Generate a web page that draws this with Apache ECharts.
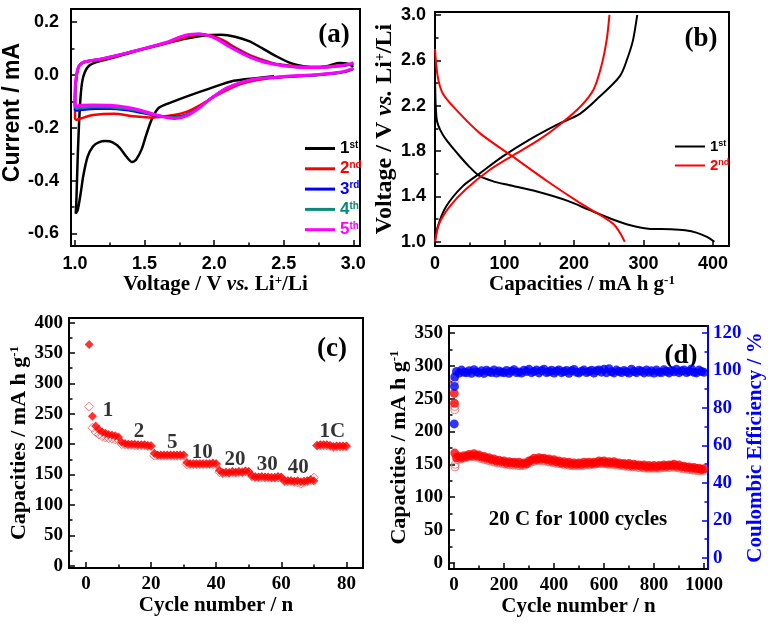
<!DOCTYPE html>
<html><head><meta charset="utf-8">
<script src="https://cdn.jsdelivr.net/npm/echarts@6/dist/echarts.min.js"></script>
<style>html,body{margin:0;padding:0;background:#fff}#c{width:768px;height:625px}</style>
</head><body><div id="c"></div>
<script>
// ---------- Panel (a): cyclic voltammetry [V, mA] in sweep order ----------
const cvNames = ['1st', '2nd', '3rd', '4th', '5th'];
const cv1 = [[2.43,-0.005],[2.3,-0.012],[2.14,-0.022],[1.99,-0.047],[1.8,-0.082],[1.71,-0.1],[1.6,-0.125],[1.55,-0.17],[1.51,-0.23],[1.48,-0.28],[1.44,-0.32],[1.41,-0.33],[1.37,-0.31],[1.32,-0.275],[1.27,-0.255],[1.22,-0.25],[1.17,-0.255],[1.13,-0.27],[1.09,-0.31],[1.06,-0.38],[1.04,-0.45],[1.02,-0.51],[1.005,-0.525],[1.01,-0.47],[1.02,-0.3],[1.035,-0.12],[1.05,-0.03],[1.07,0.01],[1.1,0.035],[1.15,0.048],[1.25,0.062],[1.37,0.08],[1.5,0.1],[1.65,0.12],[1.8,0.138],[1.93,0.15],[2.05,0.152],[2.15,0.145],[2.25,0.128],[2.35,0.1],[2.45,0.07],[2.55,0.045],[2.65,0.032],[2.74,0.028],[2.83,0.036],[2.9,0.045],[2.96,0.043],[3.0,0.03]];
const cv2 = [[3.0,0.025],[2.95,0.013],[2.81,0.004],[2.62,-0.004],[2.38,-0.013],[2.19,-0.034],[2.02,-0.076],[1.9,-0.114],[1.8,-0.14],[1.71,-0.152],[1.56,-0.161],[1.42,-0.156],[1.28,-0.147],[1.13,-0.152],[1.04,-0.165],[1.01,-0.17],[1.0,-0.165],[1.0,-0.095],[1.01,-0.006],[1.03,0.035],[1.08,0.05],[1.18,0.057],[1.3,0.072],[1.42,0.089],[1.55,0.105],[1.66,0.12],[1.8,0.143],[1.9,0.152],[1.99,0.148],[2.07,0.13],[2.14,0.108],[2.21,0.088],[2.28,0.07],[2.36,0.055],[2.43,0.044],[2.52,0.037],[2.62,0.032],[2.75,0.031],[2.86,0.034],[2.95,0.038],[3.0,0.044]];
const cv3 = [[3.0,0.022],[2.9,0.008],[2.75,0.0],[2.5,-0.007],[2.3,-0.016],[2.2,-0.028],[2.09,-0.05],[2.0,-0.08],[1.95,-0.1],[1.88,-0.128],[1.8,-0.15],[1.72,-0.158],[1.63,-0.156],[1.54,-0.15],[1.45,-0.14],[1.37,-0.133],[1.25,-0.128],[1.15,-0.128],[1.05,-0.132],[1.01,-0.135],[1.0,-0.13],[1.0,-0.08],[1.01,-0.01],[1.03,0.035],[1.07,0.05],[1.18,0.06],[1.3,0.074],[1.42,0.09],[1.55,0.107],[1.66,0.123],[1.75,0.142],[1.83,0.152],[1.9,0.155],[1.97,0.148],[2.04,0.132],[2.12,0.108],[2.2,0.085],[2.28,0.066],[2.37,0.05],[2.45,0.04],[2.56,0.032],[2.66,0.028],[2.78,0.029],[2.88,0.033],[2.96,0.038],[3.0,0.044]];
const cv4 = [[3.0,0.024],[2.9,0.009],[2.75,0.001],[2.5,-0.006],[2.3,-0.015],[2.2,-0.027],[2.09,-0.05],[2.0,-0.08],[1.95,-0.1],[1.88,-0.129],[1.8,-0.152],[1.72,-0.161],[1.64,-0.158],[1.55,-0.149],[1.46,-0.137],[1.37,-0.128],[1.25,-0.122],[1.14,-0.121],[1.05,-0.124],[1.01,-0.127],[1.0,-0.12],[1.0,-0.07],[1.01,-0.005],[1.03,0.035],[1.07,0.05],[1.18,0.06],[1.3,0.074],[1.42,0.09],[1.55,0.107],[1.66,0.123],[1.75,0.142],[1.82,0.152],[1.89,0.155],[1.96,0.149],[2.03,0.134],[2.11,0.109],[2.19,0.086],[2.27,0.066],[2.36,0.05],[2.45,0.04],[2.55,0.032],[2.66,0.028],[2.78,0.029],[2.88,0.033],[2.96,0.039],[3.0,0.045]];
const cv5 = [[3.0,0.025],[2.9,0.01],[2.75,0.002],[2.5,-0.006],[2.3,-0.015],[2.2,-0.027],[2.09,-0.05],[2.0,-0.08],[1.95,-0.1],[1.88,-0.13],[1.8,-0.155],[1.72,-0.165],[1.65,-0.16],[1.56,-0.148],[1.47,-0.133],[1.37,-0.122],[1.25,-0.115],[1.13,-0.114],[1.04,-0.115],[1.005,-0.118],[1.0,-0.11],[1.0,-0.06],[1.01,0.0],[1.03,0.035],[1.07,0.05],[1.18,0.06],[1.3,0.074],[1.42,0.09],[1.55,0.108],[1.66,0.124],[1.75,0.143],[1.82,0.153],[1.88,0.155],[1.95,0.15],[2.02,0.136],[2.1,0.11],[2.18,0.087],[2.26,0.067],[2.35,0.05],[2.44,0.04],[2.55,0.032],[2.66,0.028],[2.78,0.029],[2.88,0.034],[2.96,0.04],[3.0,0.047]];
const aXTicks = [1.0, 1.5, 2.0, 2.5, 3.0];
const aXMinor = [1.25, 1.75, 2.25, 2.75];
const aYTicks = [-0.6, -0.4, -0.2, 0.0, 0.2];
const aYMinor = [-0.5, -0.3, -0.1, 0.1];

// ---------- Panel (b): charge/discharge [capacity, V] ----------
const gcdNames = ['1st', '2nd'];
const dis1 = [[0,2.45],[1,2.2],[3,2.06],[8,1.98],[16,1.9],[32,1.78],[48,1.67],[64,1.58],[85,1.53],[106,1.5],[148,1.44],[191,1.36],[222,1.28],[254,1.2],[281,1.145],[307,1.115],[339,1.11],[360,1.1],[376,1.08],[392,1.04],[402,1.0]];
const chg1 = [[0,1.0],[3.8,1.13],[16,1.31],[40,1.49],[64,1.6],[97,1.75],[136,1.9],[175,2.03],[209,2.13],[237,2.28],[266,2.46],[277,2.62],[285,2.78],[291,3.0]];
const dis2 = [[0,2.7],[3.8,2.46],[11,2.31],[31,2.16],[64,1.96],[112,1.75],[160,1.54],[209,1.34],[256,1.16],[273,1.0]];
const chg2 = [[0,1.0],[6,1.16],[21,1.31],[44,1.46],[78,1.63],[112,1.76],[150,1.9],[179,2.03],[209,2.19],[228,2.34],[239,2.54],[247,2.78],[251,3.0]];
const bXTicks = [0, 100, 200, 300, 400];
const bXMinor = [50, 150, 250, 350];
const bYTicks = [1.0, 1.4, 1.8, 2.2, 2.6, 3.0];
const bYMinor = [1.2, 1.6, 2.0, 2.4, 2.8];

// ---------- Panel (c): rate capability, cycles 1..80 ----------
const rateFilled = [364,246,230,224,220,218,216,215,214,212, 203,201,200,200,200,199,199,199,198,197, 185,182,182,182,182,182,182,182,182,182, 170,168,168,168,168,168,168,168,169,168, 157,153,154,153,155,154,155,154,156,155, 148,146,146,147,146,146,145,145,147,146, 140,140,140,139,140,138,139,140,142,140, 198,199,199,199,198,196,197,197,197,197];
const rateOpen = [262,227,220,216,213,211,210,209,208,207, 200,199,199,199,198,198,198,198,197,197, 181,181,181,181,181,181,181,181,181,181, 167,167,167,167,167,167,167,167,167,167, 154,152,153,153,154,153,154,154,155,154, 147,146,145,145,145,145,145,145,145,145, 139,139,139,138,137,135,138,139,140,145, 198,198,198,198,197,195,196,196,196,196];
const rateLabels = ['1', '2', '5', '10', '20', '30', '40', '1C'];
const rateLabelPos = [[6.8,256],[16.3,220],[26.5,202],[35.7,187],[45.8,174],[55.7,166],[65.2,161],[75.7,220]];
const cXTicks = [0, 20, 40, 60, 80];
const cXMinor = [10, 30, 50, 70];
const cYTicks = [0, 50, 100, 150, 200, 250, 300, 350, 400];
const cYMinor = [25, 75, 125, 175, 225, 275, 325, 375];

// ---------- Panel (d): long cycling at 20 C ----------
const capFilledEarly = [[1,258],[2,243],[3,167]];
const capOpenEarly = [[1,276],[2,238],[3,233],[4,146]];
const ceEarly = [[1,71.5],[2,91.5],[3,96.5]];
// filled capacity at cycles 10,20,...,1000
const capFilled = [160,162,160,163,162,165,163,166,163,164, 161,162,159,160,157,158,155,156,154,155, 152,154,152,153,151,153,150,152,151,155, 156,159,157,160,158,159,157,158,155,157, 154,155,152,154,151,153,150,152,150,152, 150,153,151,153,151,153,152,155,153,155, 152,154,152,154,151,152,150,151,149,151, 148,150,148,149,147,149,146,148,146,148, 146,148,147,149,147,149,148,150,147,149, 146,147,145,146,144,145,143,144,142,143];
// open capacity at cycles 5,15,...,995
const capOpen = [150,157,158,159,160,161,162,162,161,161, 159,158,157,156,155,154,153,152,152,151, 150,150,149,149,149,148,148,148,149,151, 153,154,155,156,156,155,155,154,153,153, 152,151,151,150,149,149,148,148,148,148, 148,148,149,149,149,150,150,151,151,151, 151,150,150,150,149,149,148,148,147,147, 146,146,146,145,145,145,144,144,144,144, 144,144,144,145,145,145,145,146,145,145, 144,143,143,142,142,141,141,140,140,140];
// coulombic efficiency at cycles 10,20,...,1000
const ceVals = [99.5,98.6,100.2,99.0,98.8,99.9,98.5,100.4,99.2,98.7, 99.8,98.4,100.1,99.3,98.9,100.3,98.6,99.7,99.1,98.8, 100.0,98.5,99.6,100.4,98.9,99.2,98.6,100.1,99.4,100.6, 98.8,99.5,100.2,98.7,99.9,100.7,98.9,99.3,100.1,98.6, 99.7,100.3,98.8,99.4,100.0,98.5,99.8,100.5,99.0,98.7, 99.6,100.2,98.9,99.4,100.1,98.6,99.9,100.3,99.1,100.6, 98.8,100.9,99.3,98.7,100.2,99.5,98.9,100.0,99.2,98.6, 100.7,99.4,98.8,100.1,99.6,98.7,100.3,99.0,99.8,98.6, 100.2,99.1,98.9,100.4,99.5,98.7,100.0,99.3,100.6,98.8, 99.7,100.3,98.9,99.5,100.8,99.0,98.7,100.2,99.4,99.0];
const dXTicks = [0, 200, 400, 600, 800, 1000];
const dXMinor = [100, 300, 500, 700, 900];
const dYTicks = [0, 50, 100, 150, 200, 250, 300, 350];
const dYMinor = [25, 75, 125, 175, 225, 275, 325];
const dY2Ticks = [0, 20, 40, 60, 80, 100, 120];
const dY2Minor = [10, 30, 50, 70, 90, 110];

// ---------- build ----------
const SERIF = 'Liberation Serif', SANS = 'Liberation Sans';
const BLUE = '#0000ff', RED = '#ff0000';
const cvColors = ['#000000', '#ff0000', '#0000ff', '#0a8a78', '#ff00ff'];

const grids = [
  {left: 71, top: 9, width: 289, height: 237},
  {left: 435, top: 12, width: 294, height: 234},
  {left: 69, top: 318, width: 294, height: 250},
  {left: 449, top: 326, width: 259, height: 243}
].map(g => Object.assign(g, {show: true, borderColor: '#000', borderWidth: 2, backgroundColor: 'transparent', containLabel: false, outerBoundsMode: 'none'}));

const xAxes = [], yAxes = [];
function addAxis(list, o) {
  const color = o.color || '#000';
  const major = {
    type: 'value', gridIndex: o.gi, position: o.pos, min: o.min, max: o.max,
    axisLine: {show: !!o.line, onZero: false, lineStyle: {color, width: 2}},
    axisTick: {show: true, inside: true, length: 6, customValues: o.majors, lineStyle: {color, width: 1.5}},
    axisLabel: {show: true, customValues: o.majors, formatter: o.fmt, margin: o.margin, color,
      fontFamily: o.font, fontWeight: 'bold', fontSize: o.size},
    splitLine: {show: false},
    name: o.name, nameLocation: 'middle', nameGap: o.nameGap, nameRotate: o.nameRotate,
    nameTextStyle: o.nameStyle
  };
  const minor = {
    type: 'value', gridIndex: o.gi, position: o.pos, min: o.min, max: o.max,
    axisLine: {show: false, onZero: false},
    axisTick: {show: true, inside: true, length: 3.5, customValues: o.minors, lineStyle: {color, width: 1.5}},
    axisLabel: {show: false}, splitLine: {show: false}
  };
  list.push(major); const idx = list.length - 1; list.push(minor);
  return idx;
}
const f1 = v => v.toFixed(1), f0 = v => String(Math.round(v));
function serifName(size, color) {
  return {fontFamily: SERIF, fontWeight: 'bold', fontSize: size, color: color || '#000',
    rich: {
      i: {fontFamily: SERIF, fontWeight: 'bold', fontStyle: 'italic', fontSize: size, color: color || '#000'},
      s: {fontFamily: SERIF, fontWeight: 'bold', fontSize: Math.round(size * 0.6), color: color || '#000', verticalAlign: 'top', lineHeight: Math.round(size * 0.6)}
    }};
}

// (a)
const axA = addAxis(xAxes, {gi: 0, pos: 'bottom', min: 0.971, max: 3.048, majors: aXTicks, minors: aXMinor, fmt: f1, margin: 9, font: SANS, size: 18,
  name: 'Voltage / V {i|vs.} Li{s|+}/Li', nameGap: 28, nameStyle: serifName(21)});
const ayA = addAxis(yAxes, {gi: 0, pos: 'left', min: -0.648, max: 0.25, majors: aYTicks, minors: aYMinor, fmt: f1, margin: 12, font: SANS, size: 18,
  name: 'Current / mA', nameGap: 44, nameRotate: 90,
  nameStyle: {fontFamily: SANS, fontWeight: 'bold', fontSize: 23, color: '#000', padding: [0, 0, 0, 30]}});
// (b)
const axB = addAxis(xAxes, {gi: 1, pos: 'bottom', min: 0, max: 423, majors: bXTicks, minors: bXMinor, fmt: f0, margin: 9, font: SANS, size: 18,
  name: 'Capacities / mA h g{s|-1}', nameGap: 27, nameStyle: serifName(21)});
const ayB = addAxis(yAxes, {gi: 1, pos: 'left', min: 0.962, max: 3.026, majors: bYTicks, minors: bYMinor, fmt: f1, margin: 9, font: SANS, size: 18,
  name: 'Voltage / V {i|vs.} Li{s|+}/Li', nameGap: 32, nameRotate: 90, nameStyle: serifName(24)});
// (c)
const axC = addAxis(xAxes, {gi: 2, pos: 'bottom', min: -5.2, max: 85.1, majors: cXTicks, minors: cXMinor, fmt: f0, margin: 7, font: SERIF, size: 19,
  name: 'Cycle number / n', nameGap: 25, nameStyle: serifName(21)});
const ayC = addAxis(yAxes, {gi: 2, pos: 'left', min: -3.8, max: 407.7, majors: cYTicks, minors: cYMinor, fmt: f0, margin: 6, font: SERIF, size: 19,
  name: 'Capacities / mA h g{s|-1}', nameGap: 38, nameRotate: 90, nameStyle: serifName(22)});
// (d)
const axD = addAxis(xAxes, {gi: 3, pos: 'bottom', min: -20, max: 1016, majors: dXTicks, minors: dXMinor, fmt: f0, margin: 7, font: SERIF, size: 19,
  name: 'Cycle number / n', nameGap: 25, nameStyle: serifName(21)});
const ayD = addAxis(yAxes, {gi: 3, pos: 'left', min: -9.6, max: 360.7, majors: dYTicks, minors: dYMinor, fmt: f0, margin: 6, font: SERIF, size: 19,
  name: 'Capacities / mA h g{s|-1}', nameGap: 38, nameRotate: 90, nameStyle: serifName(22)});
const ayD2 = addAxis(yAxes, {gi: 3, pos: 'right', min: -5.9, max: 123.7, majors: dY2Ticks, minors: dY2Minor, fmt: f0, margin: 5, font: SERIF, size: 19, color: BLUE, line: true,
  name: 'Coulombic Efficiency / %', nameGap: 34, nameRotate: 90, nameStyle: serifName(21, BLUE)});

const series = [];
[cv1, cv2, cv3, cv4, cv5].forEach((d, i) => series.push({
  type: 'line', name: cvNames[i], xAxisIndex: axA, yAxisIndex: ayA, data: d, showSymbol: false, smooth: 0.25,
  color: cvColors[i], lineStyle: {width: i === 4 ? 3 : 2.5, color: cvColors[i]}, z: 2 + i
}));
[[dis1, 0], [chg1, 0], [dis2, 1], [chg2, 1]].forEach(([d, k]) => series.push({
  type: 'line', name: gcdNames[k] + ' ', xAxisIndex: axB, yAxisIndex: ayB, data: d, showSymbol: false, smooth: 0.3,
  color: k ? RED : '#000', lineStyle: {width: 2, color: k ? RED : '#000'}
}));
series.push({type: 'scatter', name: 'rate-open', xAxisIndex: axC, yAxisIndex: ayC, symbol: 'diamond', symbolSize: 9,
  itemStyle: {color: 'rgba(255,255,255,0)', borderColor: '#e85a5a', borderWidth: 1},
  data: rateOpen.map((v, i) => [i + 1, v])});
series.push({type: 'scatter', name: 'rate-filled', xAxisIndex: axC, yAxisIndex: ayC, symbol: 'diamond', symbolSize: 9,
  itemStyle: {color: RED}, data: rateFilled.map((v, i) => [i + 1, v])});
series.push({type: 'scatter', name: 'rate-labels', xAxisIndex: axC, yAxisIndex: ayC, symbolSize: 1, silent: true,
  itemStyle: {color: 'rgba(0,0,0,0)'}, z: 10,
  label: {show: true, position: 'inside', formatter: p => rateLabels[p.dataIndex], fontFamily: SERIF, fontWeight: 'bold', fontSize: 21, color: '#000'},
  data: rateLabelPos});
const openPts = capOpenEarly.concat(capOpen.map((v, i) => [5 + 10 * i, v]));
const filledPts = capFilledEarly.concat(capFilled.map((v, i) => [10 + 10 * i, v]));
const cePts = ceEarly.concat(ceVals.map((v, i) => [10 + 10 * i, v]));
series.push({type: 'scatter', name: 'cap-open', xAxisIndex: axD, yAxisIndex: ayD, symbol: 'circle', symbolSize: 8,
  itemStyle: {color: 'rgba(255,255,255,0)', borderColor: '#ee6666', borderWidth: 1}, data: openPts});
series.push({type: 'scatter', name: 'cap-filled', xAxisIndex: axD, yAxisIndex: ayD, symbol: 'circle', symbolSize: 9,
  itemStyle: {color: RED}, data: filledPts});
series.push({type: 'scatter', name: 'ce', xAxisIndex: axD, yAxisIndex: ayD2, symbol: 'circle', symbolSize: 9,
  itemStyle: {color: BLUE}, data: cePts});

function legendRich(colors, size, weight) {
  const r = {};
  colors.forEach((c, i) => {
    r['n' + i] = {fontFamily: SANS, fontWeight: weight, fontSize: size, color: c, lineHeight: size};
    r['s' + i] = {fontFamily: SANS, fontWeight: weight, fontSize: Math.round(size * 0.58), color: c, verticalAlign: 'top', lineHeight: Math.round(size * 0.6)};
  });
  return r;
}
const legA = {
  left: 300, top: 135, orient: 'vertical', icon: 'rect', itemWidth: 30, itemHeight: 3, itemGap: 3.3,
  data: cvNames, selectedMode: false,
  formatter: n => { const i = cvNames.indexOf(n); return `{n${i}|${n[0]}}{s${i}|${n.slice(1)}}`; },
  textStyle: {rich: legendRich(cvColors, 17, 'bold')}
};
const legB = {
  left: 670, top: 134, orient: 'vertical', icon: 'rect', itemWidth: 30, itemHeight: 2, itemGap: 4,
  data: gcdNames.map(n => n + ' '), selectedMode: false,
  formatter: n => { const i = gcdNames.indexOf(n.trim()); return `{n${i}|${n[0]}}{s${i}|${n.trim().slice(1)}}`; },
  textStyle: {rich: legendRich(['#000', RED], 15, 'bold')}
};

function label(x, y, t, size) {
  return {type: 'text', x, y, silent: true, style: {text: t, font: `bold ${size}px "${SERIF}"`, fill: '#000',
    textAlign: 'center', textVerticalAlign: 'middle', align: 'center', verticalAlign: 'middle'}};
}
const graphic = [label(334, 35, '(a)', 27), label(701, 39, '(b)', 27), label(332, 349, '(c)', 27), label(681, 356, '(d)', 27),
  label(578, 520, '20 C for 1000 cycles', 21)];

const chart = echarts.init(document.getElementById('c'), null, {renderer: 'canvas'});
chart.setOption({animation: false, backgroundColor: '#fff', grid: grids, xAxis: xAxes, yAxis: yAxes,
  series, legend: [legA, legB], graphic});
</script></body></html>
